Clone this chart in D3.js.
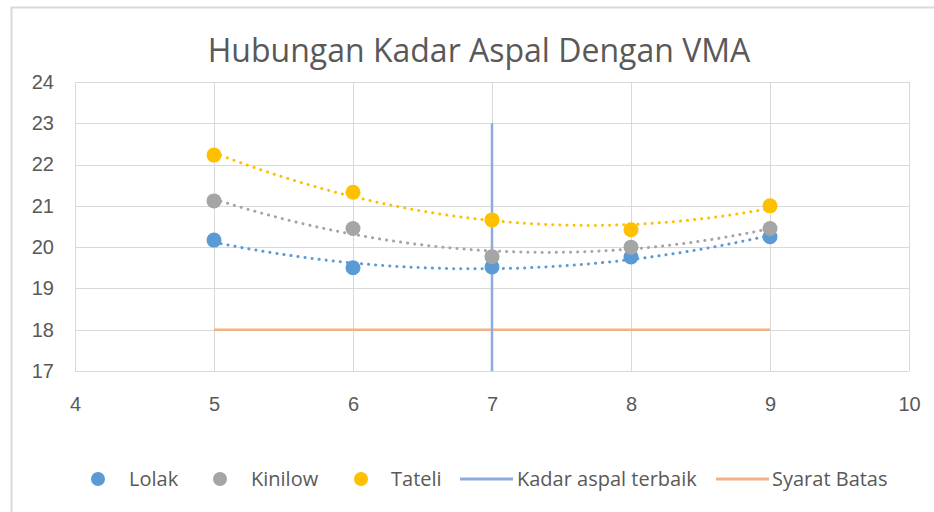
<!DOCTYPE html>
<html>
<head>
<meta charset="utf-8">
<script src="https://cdn.jsdelivr.net/npm/d3@7"></script>
<style>
  body { margin: 0; background: #fff; }
  svg { display: block; font-family: "Open Sans", "Liberation Sans", sans-serif; }
</style>
</head>
<body>
<svg id="chart" width="934" height="512"></svg>
<script>
// data
const kadarAspal = [5, 6, 7, 8, 9];
const lolak = [20.17, 19.5, 19.52, 19.76, 20.25];
const kinilow = [21.12, 20.45, 19.77, 20.0, 20.45];
const tateli = [22.23, 21.33, 20.66, 20.42, 21.0];
const kadarTerbaik = 7;
const kadarTerbaikRange = [17, 23];
const syaratBatas = 18;
const syaratRange = [5, 9];
const xTicks = [4, 5, 6, 7, 8, 9, 10];
const yTicks = [17, 18, 19, 20, 21, 22, 23, 24];

const series = [
  { name: "Lolak", values: lolak, color: "#5b9bd5" },
  { name: "Kinilow", values: kinilow, color: "#a5a5a5" },
  { name: "Tateli", values: tateli, color: "#ffc000" }
];

var svg = d3.select("#chart");
var width = 934;
var height = 512;
var margin = { left: 75, right: 25, top: 82, bottom: 141 };

// outer chart border (cropped on right/bottom)
svg.append("path")
  .attr("d", `M11.5,${height} V7.5 H${width}`)
  .attr("fill", "none")
  .attr("stroke", "#d9d9d9")
  .attr("stroke-width", 2);

svg.append("text")
  .attr("x", 479)
  .attr("y", 62)
  .attr("text-anchor", "middle")
  .attr("fill", "#595959")
  .attr("font-size", 32)
  .text("Hubungan Kadar Aspal Dengan VMA");

var x = d3.scaleLinear().domain([4, 10]).range([margin.left, width - margin.right]);
var y = d3.scaleLinear().domain([17, 24]).range([height - margin.bottom, margin.top]);

// gridlines
var grid = svg.append("g").attr("stroke", "#d9d9d9").attr("stroke-width", 1);
grid.selectAll("line.h")
  .data(yTicks)
  .enter()
  .append("line")
  .attr("x1", x(4)).attr("x2", x(10))
  .attr("y1", d => Math.round(y(d)) + 0.5)
  .attr("y2", d => Math.round(y(d)) + 0.5);
grid.selectAll("line.v")
  .data(xTicks)
  .enter()
  .append("line")
  .attr("y1", y(17)).attr("y2", y(24))
  .attr("x1", d => Math.round(x(d)) + 0.5)
  .attr("x2", d => Math.round(x(d)) + 0.5);

// axes labels
var yAxis = svg.append("g")
  .attr("transform", `translate(${margin.left},0)`)
  .call(d3.axisLeft(y).tickValues(yTicks).tickSize(0).tickPadding(21).tickFormat(d3.format("d")));
var xAxis = svg.append("g")
  .attr("transform", `translate(0,${y(17)})`)
  .call(d3.axisBottom(x).tickValues(xTicks).tickSize(0).tickPadding(26).tickFormat(d3.format("d")));
[yAxis, xAxis].forEach(a => {
  a.select(".domain").remove();
  a.selectAll("text").attr("fill", "#595959").attr("font-size", 20);
});

// polynomial (order 2) trendline, like the spreadsheet one
function quadFit(xs, ys) {
  let n = xs.length, s = [0, 0, 0, 0, 0], t = [0, 0, 0];
  for (let i = 0; i < n; i++) {
    let p = 1;
    for (let k = 0; k < 5; k++) { s[k] += p; if (k < 3) t[k] += p * ys[i]; p *= xs[i]; }
  }
  let A = [[s[0], s[1], s[2], t[0]], [s[1], s[2], s[3], t[1]], [s[2], s[3], s[4], t[2]]];
  for (let i = 0; i < 3; i++) {
    for (let j = i + 1; j < 3; j++) {
      let f = A[j][i] / A[i][i];
      for (let k = i; k < 4; k++) A[j][k] -= f * A[i][k];
    }
  }
  let c = [0, 0, 0];
  for (let i = 2; i >= 0; i--) {
    let v = A[i][3];
    for (let k = i + 1; k < 3; k++) v -= A[i][k] * c[k];
    c[i] = v / A[i][i];
  }
  return xv => c[0] + c[1] * xv + c[2] * xv * xv;
}

var line = d3.line().x(d => x(d[0])).y(d => y(d[1]));
var steps = d3.range(5, 9.0001, 0.05);

series.forEach(s => {
  var f = quadFit(kadarAspal, s.values);
  svg.append("path")
    .attr("d", line(steps.map(v => [v, f(v)])))
    .attr("fill", "none")
    .attr("stroke", s.color)
    .attr("stroke-width", 3)
    .attr("stroke-linecap", "round")
    .attr("stroke-dasharray", "0.1 7");
});

// Syarat Batas
svg.append("line")
  .attr("x1", x(syaratRange[0])).attr("x2", x(syaratRange[1]))
  .attr("y1", y(syaratBatas)).attr("y2", y(syaratBatas))
  .attr("stroke", "#f4b183").attr("stroke-width", 2.5);

// Kadar aspal terbaik
svg.append("line")
  .attr("x1", x(kadarTerbaik)).attr("x2", x(kadarTerbaik))
  .attr("y1", y(kadarTerbaikRange[0])).attr("y2", y(kadarTerbaikRange[1]))
  .attr("stroke", "#8faadc").attr("stroke-width", 2.5);

// points
series.forEach(s => {
  svg.append("g")
    .selectAll("circle")
    .data(kadarAspal)
    .enter()
    .append("circle")
    .attr("cx", d => x(d))
    .attr("cy", (d, i) => y(s.values[i]))
    .attr("r", 7.5)
    .attr("fill", s.color);
});

// legend
var legendY = 479;
var legendItems = [
  { name: "Lolak", type: "dot", color: "#5b9bd5", mx: 98, tx: 129 },
  { name: "Kinilow", type: "dot", color: "#a5a5a5", mx: 220, tx: 251 },
  { name: "Tateli", type: "dot", color: "#ffc000", mx: 361, tx: 391 },
  { name: "Kadar aspal terbaik", type: "line", color: "#8faadc", mx: 460, tx: 517 },
  { name: "Syarat Batas", type: "line", color: "#f4b183", mx: 716, tx: 772 }
];
var legend = svg.append("g");
legendItems.forEach(it => {
  if (it.type === "dot") {
    legend.append("circle").attr("cx", it.mx).attr("cy", legendY).attr("r", 7).attr("fill", it.color);
  } else {
    legend.append("line")
      .attr("x1", it.mx).attr("x2", it.mx + 53)
      .attr("y1", legendY).attr("y2", legendY)
      .attr("stroke", it.color).attr("stroke-width", 3);
  }
  legend.append("text")
    .attr("x", it.tx).attr("y", legendY)
    .attr("dy", "0.35em")
    .attr("fill", "#595959")
    .attr("font-size", 20)
    .text(it.name);
});
</script>
</body>
</html>
